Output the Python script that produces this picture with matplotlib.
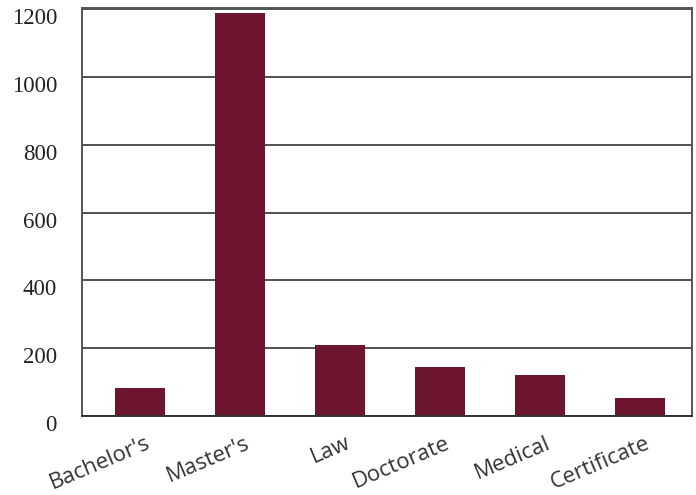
import matplotlib
matplotlib.use("Agg")
import matplotlib.pyplot as plt
import matplotlib.transforms as mtransforms

categories = ["Bachelor's", "Master's", "Law", "Doctorate", "Medical", "Certificate"]
values = [83, 1189, 209, 145, 121, 53]
yticks = [0, 200, 400, 600, 800, 1000, 1200]

fig = plt.figure(figsize=(6.96, 4.95), dpi=100)
ax = fig.add_axes([82/696, 1-416/495, 610/696, 408/495])

x = list(range(len(categories)))
ax.bar(x, values, width=0.5, color="#6e1630", zorder=3)
ax.set_xlim(-0.58, 5.52)
ax.set_ylim(0, 1204)
ax.set_yticks(yticks)
ax.set_yticklabels([str(t) for t in yticks], family="Liberation Serif", fontsize=16.5, color="#222222")
ax.yaxis.grid(True, color="#222222", linewidth=1.1, zorder=1)
ax.tick_params(axis="y", length=0, pad=18)
ax.tick_params(axis="x", length=0, pad=4)
yoff = mtransforms.ScaledTranslation(0, -7/100, fig.dpi_scale_trans)
for lab in ax.get_yticklabels():
    lab.set_transform(lab.get_transform() + yoff)
ax.set_xticks(x)
offset = mtransforms.ScaledTranslation(5/100, -11/100, fig.dpi_scale_trans)
ax.set_xticklabels(categories, rotation=23, ha="right", va="top", rotation_mode="anchor",
                   family="Open Sans", fontsize=16, color="#333333")
for lab in ax.get_xticklabels():
    lab.set_transform(lab.get_transform() + offset)
for s in ["left", "right", "top", "bottom"]:
    ax.spines[s].set_color("#555555")
    ax.spines[s].set_linewidth(1.4)
    ax.spines[s].set_zorder(4)
ax.spines["bottom"].set_color("#333333")
fig.savefig("out.png", dpi=100)
